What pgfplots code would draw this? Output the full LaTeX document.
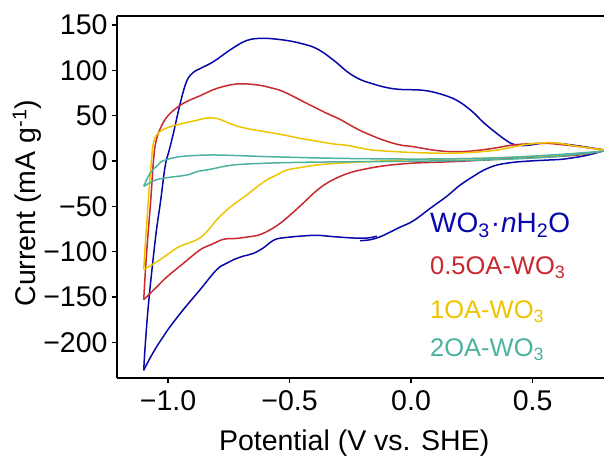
\documentclass[border=0pt]{standalone}
\usepackage{pgfplots}
\pgfplotsset{compat=1.18}
\usepackage{fontspec}
\setmainfont{Liberation Sans}
\definecolor{cblue}{RGB}{8,8,170}
\definecolor{cred}{RGB}{200,40,48}
\definecolor{cyel}{RGB}{238,196,0}
\definecolor{cteal}{RGB}{76,178,160}
\begin{document}
\begin{tikzpicture}
\begin{axis}[name=ax, scale only axis, width=487pt, height=362pt,
  xmin=-1.21, xmax=0.794, ymin=-239.5, ymax=160,
  axis x line=box, axis y line=left,
  axis line style={-, line width=1.2pt, black},
  xtick={-1,-0.5,0,0.5}, xticklabels={−1.0,−0.5,0.0,0.5},
  ytick={-200,-150,-100,-50,0,50,100,150},
  yticklabels={−200,−150,−100,−50,0,50,100,150},
  xtick pos=left, ytick pos=left,
  tick align=outside, major tick length=5pt,
  tick style={line width=1.2pt, black},
  ticklabel style={font=\fontsize{28.5}{30}\selectfont},
  xticklabel style={yshift=-4pt}, yticklabel style={xshift=-1pt},
  label style={font=\fontsize{28.5}{30}\selectfont},
  xlabel={Potential (V vs. SHE)},
  ylabel={Current (mA g\textsuperscript{-1})},
  xlabel style={at={(axis description cs:0.487,-0.199)}, anchor=base},
  ylabel style={at={(axis description cs:-0.185,0.483)}, anchor=center},
  every axis plot/.append style={line width=1.5pt, smooth, tension=0.6},
]
% WO3.nH2O
\addplot[cblue] coordinates {(-0.21,-88)(-0.17,-87)(-0.13,-84)(-0.09,-79)(-0.045,-73)(0.01,-66)(0.08,-52)(0.147,-39)(0.2,-27)(0.256,-17)(0.3,-10)(0.353,-4.5)(0.42,-1.5)(0.49,0)(0.56,1)(0.625,2)(0.7,5)(0.75,8)(0.8,12)};
\addplot[cblue] coordinates {(0.8,12)(0.73,15)(0.667,17.5)(0.6,19.5)(0.55,20)(0.5,18)(0.46,17)(0.42,18.5)(0.39,23)(0.35,31)(0.3,42)(0.25,55)(0.188,67)(0.12,74)(0.05,78)(-0.045,79)(-0.1,81)(-0.156,85)(-0.21,90)(-0.26,98)(-0.32,111.5)(-0.388,124)(-0.457,130)(-0.525,133.5)(-0.608,135.4)(-0.676,133)(-0.745,122.5)(-0.813,109.6)(-0.868,102)(-0.895,98)(-0.92,90)(-0.94,74)(-0.96,52)(-0.978,30.5)(-0.995,12)(-1.012,-6)(-1.03,-43)(-1.047,-75)(-1.06,-105)(-1.074,-140)(-1.085,-172)(-1.095,-208)(-1.1,-231)};
\addplot[cblue] coordinates {(-1.1,-231)(-1.075,-218)(-1.047,-205)(-1.02,-194)(-0.992,-183)(-0.937,-164)(-0.868,-142)(-0.80,-120)(-0.76,-113)(-0.731,-109)(-0.69,-105)(-0.649,-102)(-0.608,-96)(-0.58,-90)(-0.553,-86)(-0.5,-84)(-0.457,-83)(-0.388,-82)(-0.32,-83.5)(-0.237,-85)(-0.18,-85)(-0.141,-83)};
% 0.5OA-WO3
\addplot[cred] coordinates {(-1.1,-153)(-1.094,-125)(-1.085,-90)(-1.071,-43)(-1.06,0)(-1.05,21)(-1.03,37)(-1.0,50)(-0.958,60)(-0.92,66)(-0.868,72)(-0.80,80)(-0.717,85)(-0.635,84)(-0.58,81)(-0.525,76.5)(-0.43,63.7)(-0.347,52.6)(-0.3,47)(-0.279,44)(-0.24,38)(-0.196,32)(-0.114,23)(-0.045,17.7)(0.01,15.8)(0.08,12.5)(0.147,10.5)(0.22,10.5)(0.284,12)(0.35,14.5)(0.42,17.7)(0.49,19)(0.558,19.5)(0.62,18)(0.695,15.8)(0.8,12)};
\addplot[cred] coordinates {(0.8,12)(0.7,7)(0.6,5)(0.42,3)(0.3,1)(0.147,-1)(0.0,-2.5)(-0.128,-6)(-0.237,-11.8)(-0.30,-18)(-0.347,-24.6)(-0.39,-33)(-0.43,-43)(-0.47,-53)(-0.512,-63)(-0.55,-71)(-0.594,-78)(-0.63,-82)(-0.676,-84)(-0.72,-85.5)(-0.772,-86.4)(-0.82,-92)(-0.868,-98)(-0.937,-113)(-1.005,-128)(-1.05,-140)(-1.1,-153)};
% 1OA-WO3
\addplot[cyel] coordinates {(-1.1,-120)(-1.095,-98)(-1.081,-43)(-1.07,-5)(-1.06,20)(-1.04,31)(-1.0,37)(-0.937,41.6)(-0.88,45)(-0.84,47.5)(-0.80,47)(-0.76,43)(-0.717,38.6)(-0.66,35)(-0.594,32)(-0.52,28.5)(-0.457,25)(-0.39,22)(-0.32,18.8)(-0.265,17.3)(-0.21,14.5)(-0.156,12)(-0.045,10)(0.05,9)(0.147,8.5)(0.25,9.5)(0.353,12)(0.42,15.5)(0.49,18.8)(0.586,20)(0.695,15.8)(0.8,12)};
\addplot[cyel] coordinates {(0.8,12)(0.7,8)(0.5,5)(0.3,3)(0.1,2)(-0.045,1)(-0.182,-0.8)(-0.3,-2.5)(-0.388,-4.4)(-0.45,-7)(-0.512,-10)(-0.55,-15)(-0.594,-21)(-0.636,-29)(-0.676,-37.5)(-0.72,-46)(-0.758,-54)(-0.80,-65)(-0.827,-74)(-0.855,-82)(-0.882,-87)(-0.92,-91)(-0.964,-96)(-1.033,-109)(-1.1,-120)};
% 2OA-WO3
\addplot[cteal] coordinates {(-1.1,-28)(-1.074,-13.6)(-1.04,-4)(-1.019,0.3)(-0.95,4.8)(-0.827,6.6)(-0.7,5.8)(-0.594,4.8)(-0.45,3.8)(-0.32,3)(-0.045,2.2)(0.2,2.5)(0.4,4)(0.6,7)(0.8,11)};
\addplot[cteal] coordinates {(0.8,11)(0.6,5)(0.4,2)(0.2,0.5)(-0.045,-0.4)(-0.3,-1)(-0.457,-1.5)(-0.6,-2.5)(-0.731,-4.4)(-0.827,-9.2)(-0.882,-11.8)(-0.923,-15.5)(-1.019,-19)(-1.06,-22)(-1.1,-28)};
\begin{scope}[every node/.style={anchor=base west, inner sep=0pt, font=\fontsize{25.5}{28}\selectfont}]
\node[text=cblue, font=\fontsize{28}{30}\selectfont] at (axis cs:0.078,-79) {WO\textsubscript{3}\kern1pt·\kern1pt\textit{n}H\textsubscript{2}O};
\node[text=cred] at (axis cs:0.078,-125.8) {0.5OA-WO\textsubscript{3}};
\node[text=cyel] at (axis cs:0.078,-173.6) {1OA-WO\textsubscript{3}};
\node[text=cteal] at (axis cs:0.078,-216) {2OA-WO\textsubscript{3}};
\end{scope}
\end{axis}
\pgfresetboundingbox
\useasboundingbox ([xshift=-117pt,yshift=-83pt]ax.south west) rectangle ([yshift=16pt]ax.north east);
\end{tikzpicture}
\end{document}
